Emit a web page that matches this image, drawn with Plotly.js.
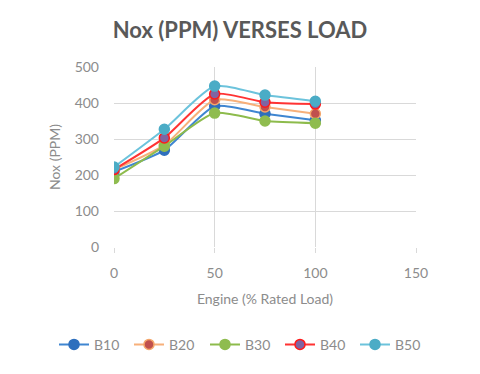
<!DOCTYPE html>
<html>
<head>
<meta charset="utf-8">
<script src="https://cdn.plot.ly/plotly-3.0.1.min.js"></script>
<style>
  html, body { margin: 0; padding: 0; background: #fff; }
  #chart { width: 480px; height: 374px; }
</style>
</head>
<body>
<div id="chart"></div>
<script>
// load points
const load = [0, 25, 50, 75, 100];

const b10 = [209, 269, 391, 370, 352];
const b20 = [215, 283, 409, 389, 370];
const b30 = [190, 280, 372, 350, 344];
const b40 = [215, 303, 425, 402, 397];
const b50 = [222, 327, 447, 422, 405];

const names = ['B10', 'B20', 'B30', 'B40', 'B50'];
const lineColors = ['#3f86d1', '#f7b07a', '#8dbb4c', '#ff3333', '#6cc3dc'];
const markerColors = ['#2e6fbd', '#c0504d', '#8fbc4f', '#8064a2', '#4bacc6'];
const markerLines = ['#2e6fbd', '#f4a66a', '#8fbc4f', '#ff1a1a', '#4bacc6'];

const series = [b10, b20, b30, b40, b50];

const grey = '#8c8c8c';
const fam = 'Lato, "Open Sans", sans-serif';

// one legend per series so all five sit on one row
const legendIds = ['legend', 'legend2', 'legend3', 'legend4', 'legend5'];
const legendX = [54, 129, 205, 280, 355];

const traces = series.map((vals, i) => ({
  x: load,
  y: vals,
  name: names[i],
  legend: legendIds[i],
  type: 'scatter',
  mode: 'lines+markers',
  line: { color: lineColors[i], width: 2, shape: 'spline', smoothing: 0.6 },
  marker: { color: markerColors[i], size: 10, line: { color: markerLines[i], width: 1.5 } }
}));

const layout = {
  width: 480,
  height: 374,
  margin: { l: 114, r: 64, t: 67, b: 127 },
  paper_bgcolor: '#fff',
  plot_bgcolor: '#fff',
  font: { family: fam, color: grey, size: 14 },
  title: {
    text: '<b>Nox (PPM) VERSES LOAD</b>',
    font: { size: 22, color: '#595959', family: fam },
    x: 0.5, xanchor: 'center', y: 0.92, yanchor: 'middle'
  },
  xaxis: {
    range: [0, 150],
    tickvals: [0, 50, 100, 150],
    showgrid: true,
    gridcolor: '#d9d9d9',
    zeroline: false,
    showline: false,
    ticks: 'outside',
    ticklen: 5,
    tickcolor: '#d9d9d9',
    ticklabelstandoff: 8,
    tickfont: { size: 14, color: grey },
    title: { text: 'Engine (% Rated Load)', font: { size: 14, color: grey }, standoff: 14 }
  },
  yaxis: {
    range: [0, 500],
    tickvals: [0, 100, 200, 300, 400, 500],
    showgrid: true,
    gridcolor: '#d9d9d9',
    zeroline: false,
    showline: false,
    ticks: '',
    ticklabelstandoff: 14,
    tickfont: { size: 14, color: grey },
    title: { text: 'Nox (PPM)', font: { size: 14, color: grey }, standoff: 10 }
  },
  showlegend: true
};

legendIds.forEach((id, i) => {
  layout[id] = {
    orientation: 'h',
    xref: 'container', yref: 'container',
    x: legendX[i] / 480, xanchor: 'left',
    y: 0.078, yanchor: 'middle',
    font: { size: 14, color: grey },
    itemwidth: 30,
    bgcolor: 'rgba(0,0,0,0)'
  };
});

Plotly.newPlot('chart', traces, layout, { displayModeBar: false, staticPlot: true });
</script>
</body>
</html>
